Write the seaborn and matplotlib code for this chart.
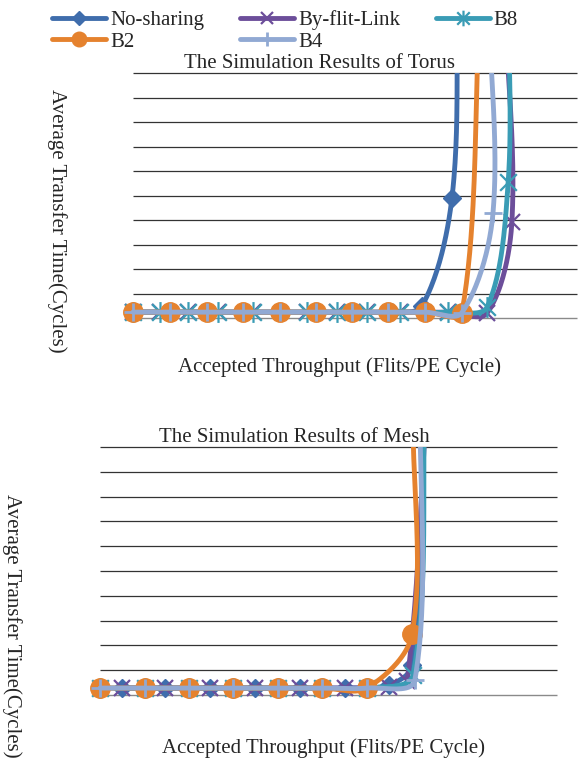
import numpy as np
import matplotlib
matplotlib.use('Agg')
import matplotlib.pyplot as plt
import seaborn as sns
from matplotlib.path import Path
from matplotlib.lines import Line2D
from matplotlib.patches import Rectangle

# ---------------- data ----------------
names = ['No-sharing', 'By-flit-Link', 'B8', 'B2', 'B4']

# torus: the last point of every series lies above the axis top
torus_x = {
    'No-sharing': [0, 0.0100, 0.0200, 0.0297, 0.0397, 0.0495, 0.0592, 0.0689, 0.0781, 0.0862, 0.0878],
    'By-flit-Link': [0, 0.0073, 0.0149, 0.0230, 0.0324, 0.0470, 0.0551, 0.0632, 0.0722, 0.0851, 0.0957, 0.1024, 0.1004],
    'B8': [0, 0.0073, 0.0149, 0.0230, 0.0324, 0.0470, 0.0551, 0.0632, 0.0722, 0.0851, 0.0957, 0.1014, 0.1015],
    'B2': [0, 0.0100, 0.0200, 0.0297, 0.0397, 0.0495, 0.0592, 0.0689, 0.0789, 0.0889, 0.0938],
    'B4': [0, 0.0100, 0.0200, 0.0297, 0.0397, 0.0495, 0.0592, 0.0689, 0.0789, 0.0889, 0.0973, 0.0960],
}
torus_y = {
    'No-sharing': [24, 24, 24, 24, 24, 24, 24, 24, 49, 490, 1300],
    'By-flit-Link': [24, 24, 24, 24, 24, 24, 24, 24, 24, 24, 20, 392, 1300],
    'B8': [24, 24, 24, 24, 24, 24, 24, 24, 24, 24, 45, 555, 1300],
    'B2': [24, 24, 24, 24, 24, 24, 24, 24, 24, 22, 1300],
    'B4': [24, 24, 24, 24, 24, 24, 24, 24, 24, 22, 429, 1300],
}

mesh_x = {
    'No-sharing': [0.0048, 0.0142, 0.0241, 0.0339, 0.0438, 0.0536, 0.0632, 0.0683, 0.0712],
    'By-flit-Link': [0.0048, 0.0142, 0.0241, 0.0339, 0.0438, 0.0536, 0.0632, 0.0672, 0.0718],
    'B8': [0, 0.0098, 0.0195, 0.0291, 0.0390, 0.0486, 0.0584, 0.0685, 0.0711],
    'B2': [0, 0.0098, 0.0195, 0.0291, 0.0390, 0.0486, 0.0584, 0.0683, 0.0685],
    'B4': [0, 0.0098, 0.0195, 0.0291, 0.0390, 0.0486, 0.0584, 0.0689, 0.0700],
}
mesh_y = {
    'No-sharing': [28, 28, 28, 28, 28, 28, 40, 121, 1270],
    'By-flit-Link': [28, 28, 28, 28, 28, 28, 32, 56, 1270],
    'B8': [28, 28, 28, 28, 28, 28, 28, 81, 1270],
    'B2': [28, 28, 28, 28, 28, 28, 28, 246, 1110],
    'B4': [28, 28, 28, 28, 28, 28, 28, 60, 1270],
}

colors = {'No-sharing': '#3F6DAC', 'By-flit-Link': '#6C4E9A', 'B8': '#3A9CB5',
          'B2': '#E5822E', 'B4': '#91A9D3'}

star = Path([(-1, -1), (1, 1), (-1, 1), (1, -1), (0, -1.25), (0, 1.25)],
            [Path.MOVETO, Path.LINETO] * 3)
mk = {
    'No-sharing': dict(marker='D', ms=9, mfc=colors['No-sharing'], mec=colors['No-sharing']),
    'By-flit-Link': dict(marker='x', ms=11, mew=1.6, mec=colors['By-flit-Link']),
    'B8': dict(marker=star, ms=15, mew=1.6, mec=colors['B8'], mfc='none'),
    'B2': dict(marker='o', ms=14, mfc=colors['B2'], mec=colors['B2']),
    'B4': dict(marker='+', ms=13, mew=2.0, mec=colors['B4']),
}

sns.set_theme(style='white')
plt.rcParams['font.family'] = ['Liberation Serif', 'DejaVu Serif']

W, H = 579, 764
fig = plt.figure(figsize=(W / 100, H / 100), dpi=100)


def px_axes(l, t, r, b):
    return fig.add_axes([l / W, 1 - b / H, (r - l) / W, (b - t) / H])


def smooth(ax, xs, ys, n=40):
    # excel style smoothed line: tangent handles weighted by segment length, screen space
    p = ax.transData.transform(np.column_stack([xs, ys]))
    P = np.vstack([p[0], p, p[-1]])
    t = np.linspace(0, 1, n)[:, None]
    segs = []
    for i in range(1, len(P) - 2):
        p0, p1, p2, p3 = P[i - 1], P[i], P[i + 1], P[i + 2]
        a = np.linalg.norm(p1 - p0)
        b = np.linalg.norm(p2 - p1)
        c = np.linalg.norm(p3 - p2)
        c1 = p1 + (p2 - p0) * (b / (a + b) / 3 if a + b > 0 else 0)
        c2 = p2 - (p3 - p1) * (b / (b + c) / 3 if b + c > 0 else 0)
        segs.append((1 - t) ** 3 * p1 + 3 * (1 - t) ** 2 * t * c1 + 3 * (1 - t) * t ** 2 * c2 + t ** 3 * p2)
    return ax.transData.inverted().transform(np.vstack(segs))


def draw(ax, xd, yd, xmax):
    ax.set_xlim(0, xmax)
    ax.set_ylim(0, 1000)
    ax.set_xticks([])
    ax.set_yticks([])
    ax.hlines(np.arange(100, 1001, 100), 0, xmax, color='#333333', lw=0.9, clip_on=False, zorder=0)
    ax.hlines([0], 0, xmax, color='#8a8a8a', lw=1.0, clip_on=False, zorder=0)
    for s in ax.spines.values():
        s.set_visible(False)
    clip = Rectangle((-0.05, -0.1), 1.1, 1.1, transform=ax.transAxes)
    for name in names:
        curve = smooth(ax, xd[name], yd[name])
        sns.lineplot(x=curve[:, 0], y=curve[:, 1], ax=ax, sort=False, estimator=None,
                     color=colors[name], lw=3.5)
        ax.lines[-1].set_clip_path(clip)
        vis = [(a, b) for a, b in zip(xd[name], yd[name]) if b <= 1000]
        ax.plot([v[0] for v in vis], [v[1] for v in vis], ls='none', clip_on=False, **mk[name])


ax1 = px_axes(133, 73, 577, 318)
draw(ax1, torus_x, torus_y, 0.12)
ax2 = px_axes(100, 447, 557, 695)
draw(ax2, mesh_x, mesh_y, 0.10)

fs = 15
fig.text(319 / W, 1 - 63 / H, 'The Simulation Results of Torus', ha='center', va='center', fontsize=fs)
fig.text(339 / W, 1 - 367 / H, 'Accepted Throughput (Flits/PE Cycle)', ha='center', va='center', fontsize=fs)
fig.text(57 / W, 1 - 221 / H, 'Average Transfer Time(Cycles)', rotation=270, ha='center', va='center', fontsize=fs)
fig.text(294 / W, 1 - 437 / H, 'The Simulation Results of Mesh', ha='center', va='center', fontsize=fs)
fig.text(324 / W, 1 - 748 / H, 'Accepted Throughput (Flits/PE Cycle)', ha='center', va='center', fontsize=fs)
fig.text(12 / W, 1 - 626 / H, 'Average Transfer Time(Cycles)', rotation=270, ha='center', va='center', fontsize=fs)

# legend is filled column by column, so order it to read row-wise like the original
leg_order = ['No-sharing', 'B2', 'By-flit-Link', 'B4', 'B8']
handles = []
for name in leg_order:
    m = dict(mk[name])
    m['ms'] = m['ms'] * 0.75
    handles.append(Line2D([], [], color=colors[name], lw=3.5, **m))
fig.legend(handles, leg_order, ncol=3, loc='upper left', bbox_to_anchor=(52 / W, 1 - 10 / H),
           frameon=False, fontsize=fs, handlelength=2.6, handletextpad=0.2,
           columnspacing=1.7, labelspacing=0.1, borderpad=0, borderaxespad=0)

fig.savefig('out.png', dpi=100)
